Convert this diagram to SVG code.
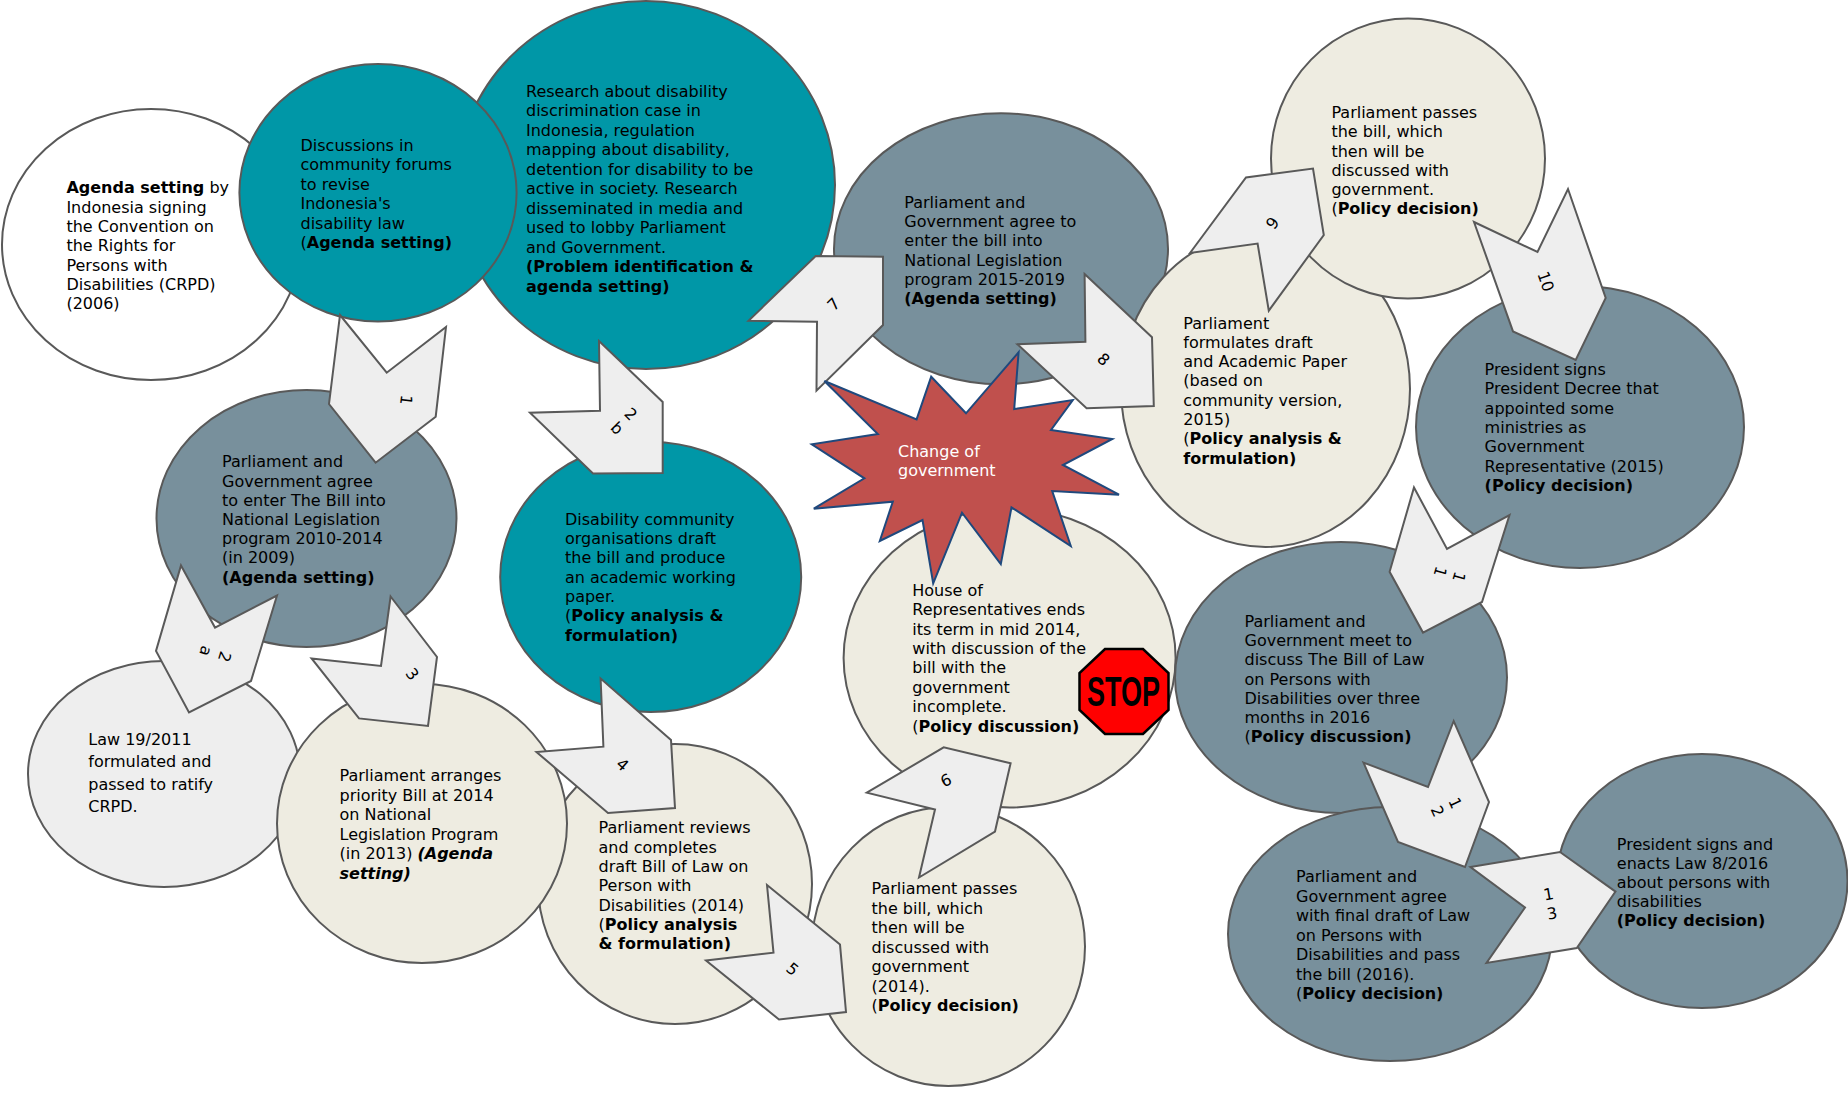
<svg xmlns="http://www.w3.org/2000/svg" width="1848" height="1094" viewBox="0 0 1848 1094">
<style>
.e{stroke:#595959;stroke-width:2}
.white{fill:#fff}.teal{fill:#0097A7}.slate{fill:#78909C}.cream{fill:#EEECE1}.light{fill:#EEEEEE}
text{font-family:"DejaVu Sans",Verdana,sans-serif;font-size:16px;fill:#000}
.b{font-weight:700}
.arrow{fill:#EEEEEE;stroke:#595959;stroke-width:2;stroke-linejoin:miter}
.lab{text-anchor:middle}
</style>
<rect width="1848" height="1094" fill="#fff"/>
<g id="n-crpd"><ellipse class="e white" cx="151" cy="244.5" rx="149" ry="135.5"/>
<text x="66.4" y="193.3"><tspan class="b">Agenda setting</tspan> by<tspan x="66.4" dy="19.33">Indonesia signing</tspan><tspan x="66.4" dy="19.33">the Convention on</tspan><tspan x="66.4" dy="19.33">the Rights for</tspan><tspan x="66.4" dy="19.33">Persons with</tspan><tspan x="66.4" dy="19.33">Disabilities (CRPD)</tspan><tspan x="66.4" dy="19.33">(2006)</tspan></text></g>
<g id="n-research"><ellipse class="e teal" cx="646" cy="185" rx="189" ry="184"/>
<text x="526" y="97">Research about disability<tspan x="526" dy="19.47">discrimination case in</tspan><tspan x="526" dy="19.47">Indonesia, regulation</tspan><tspan x="526" dy="19.47">mapping about disability,</tspan><tspan x="526" dy="19.47">detention for disability to be</tspan><tspan x="526" dy="19.47">active in society. Research</tspan><tspan x="526" dy="19.47">disseminated in media and</tspan><tspan x="526" dy="19.47">used to lobby Parliament</tspan><tspan x="526" dy="19.47">and Government.</tspan><tspan x="526" dy="19.47" class="b">(Problem identification &amp;</tspan><tspan x="526" dy="19.47" class="b">agenda setting)</tspan></text></g>
<g id="n-forums"><ellipse class="e teal" cx="378" cy="192.8" rx="138.6" ry="128.8"/>
<text x="300.5" y="151">Discussions in<tspan x="300.5" dy="19.4">community forums</tspan><tspan x="300.5" dy="19.4">to revise</tspan><tspan x="300.5" dy="19.4">Indonesia's</tspan><tspan x="300.5" dy="19.4">disability law</tspan><tspan x="300.5" dy="19.4">(<tspan class="b">Agenda setting)</tspan></tspan></text></g>
<g id="n-prolegnas-2010"><ellipse class="e slate" cx="306.5" cy="518.5" rx="150" ry="128.5"/>
<text x="222" y="467.3">Parliament and<tspan x="222" dy="19.2">Government agree</tspan><tspan x="222" dy="19.2">to enter The Bill into</tspan><tspan x="222" dy="19.2">National Legislation</tspan><tspan x="222" dy="19.2">program 2010-2014</tspan><tspan x="222" dy="19.2">(in 2009)</tspan><tspan x="222" dy="19.2" class="b">(Agenda setting)</tspan></text></g>
<g id="n-community"><ellipse class="e teal" cx="650.7" cy="577" rx="150.5" ry="135"/>
<text x="565" y="524.7">Disability community<tspan x="565" dy="19.33">organisations draft</tspan><tspan x="565" dy="19.33">the bill and produce</tspan><tspan x="565" dy="19.33">an academic working</tspan><tspan x="565" dy="19.33">paper.</tspan><tspan x="565" dy="19.33">(<tspan class="b">Policy analysis &amp;</tspan></tspan><tspan x="565" dy="19.33" class="b">formulation)</tspan></text></g>
<g id="n-law19"><ellipse class="e light" cx="164" cy="774" rx="136" ry="113"/>
<text x="88.3" y="745">Law 19/2011<tspan x="88.3" dy="22.4">formulated and</tspan><tspan x="88.3" dy="22.4">passed to ratify</tspan><tspan x="88.3" dy="22.4">CRPD.</tspan></text></g>
<g id="n-reviews"><ellipse class="e cream" cx="675" cy="884" rx="137" ry="140"/>
<text x="598.5" y="833.3">Parliament reviews<tspan x="598.5" dy="19.3">and completes</tspan><tspan x="598.5" dy="19.3">draft Bill of Law on</tspan><tspan x="598.5" dy="19.3">Person with</tspan><tspan x="598.5" dy="19.3">Disabilities (2014)</tspan><tspan x="598.5" dy="19.3">(<tspan class="b">Policy analysis</tspan></tspan><tspan x="598.5" dy="19.3" class="b">&amp; formulation)</tspan></text></g>
<g id="n-priority"><ellipse class="e cream" cx="422" cy="823.5" rx="145" ry="139.5"/>
<text x="339.5" y="781.3">Parliament arranges<tspan x="339.5" dy="19.5">priority Bill at 2014</tspan><tspan x="339.5" dy="19.5">on National</tspan><tspan x="339.5" dy="19.5">Legislation Program</tspan><tspan x="339.5" dy="19.5">(in 2013) <tspan class="b" font-style="italic">(Agenda</tspan></tspan><tspan x="339.5" dy="19.5" class="b" font-style="italic">setting)</tspan></text></g>
<g id="n-passes-2014"><ellipse class="e cream" cx="948.5" cy="946.5" rx="136.5" ry="139.5"/>
<text x="871.5" y="894.4">Parliament passes<tspan x="871.5" dy="19.5">the bill, which</tspan><tspan x="871.5" dy="19.5">then will be</tspan><tspan x="871.5" dy="19.5">discussed with</tspan><tspan x="871.5" dy="19.5">government</tspan><tspan x="871.5" dy="19.5">(2014).</tspan><tspan x="871.5" dy="19.5">(<tspan class="b">Policy decision)</tspan></tspan></text></g>
<g id="n-house"><ellipse class="e cream" cx="1009.6" cy="658" rx="166" ry="149.5"/>
<text x="912.3" y="595.8">House of<tspan x="912.3" dy="19.4">Representatives ends</tspan><tspan x="912.3" dy="19.4">its term in mid 2014,</tspan><tspan x="912.3" dy="19.4">with discussion of the</tspan><tspan x="912.3" dy="19.4">bill with the</tspan><tspan x="912.3" dy="19.4">government</tspan><tspan x="912.3" dy="19.4">incomplete.</tspan><tspan x="912.3" dy="19.4">(<tspan class="b">Policy discussion)</tspan></tspan></text></g>
<g id="n-prolegnas-2015"><ellipse class="e slate" cx="1001" cy="248.7" rx="167" ry="135.5"/>
<text x="904.3" y="207.6">Parliament and<tspan x="904.3" dy="19.33">Government agree to</tspan><tspan x="904.3" dy="19.33">enter the bill into</tspan><tspan x="904.3" dy="19.33">National Legislation</tspan><tspan x="904.3" dy="19.33">program 2015-2019</tspan><tspan x="904.3" dy="19.33" class="b">(Agenda setting)</tspan></text></g>
<g id="n-formulates"><ellipse class="e cream" cx="1265.5" cy="389" rx="144.5" ry="158"/>
<text x="1183.3" y="328.6">Parliament<tspan x="1183.3" dy="19.29">formulates draft</tspan><tspan x="1183.3" dy="19.29">and Academic Paper</tspan><tspan x="1183.3" dy="19.29">(based on</tspan><tspan x="1183.3" dy="19.29">community version,</tspan><tspan x="1183.3" dy="19.29">2015)</tspan><tspan x="1183.3" dy="19.29">(<tspan class="b">Policy analysis &amp;</tspan></tspan><tspan x="1183.3" dy="19.29" class="b">formulation)</tspan></text></g>
<g id="n-passes"><ellipse class="e cream" cx="1408" cy="158.6" rx="137" ry="140"/>
<text x="1331.4" y="117.9">Parliament passes<tspan x="1331.4" dy="19.3">the bill, which</tspan><tspan x="1331.4" dy="19.3">then will be</tspan><tspan x="1331.4" dy="19.3">discussed with</tspan><tspan x="1331.4" dy="19.3">government.</tspan><tspan x="1331.4" dy="19.3">(<tspan class="b">Policy decision)</tspan></tspan></text></g>
<g id="n-decree"><ellipse class="e slate" cx="1580" cy="427" rx="164" ry="141"/>
<text x="1484.6" y="375">President signs<tspan x="1484.6" dy="19.33">President Decree that</tspan><tspan x="1484.6" dy="19.33">appointed some</tspan><tspan x="1484.6" dy="19.33">ministries as</tspan><tspan x="1484.6" dy="19.33">Government</tspan><tspan x="1484.6" dy="19.33">Representative (2015)</tspan><tspan x="1484.6" dy="19.33" class="b">(Policy decision)</tspan></text></g>
<g id="n-meet"><ellipse class="e slate" cx="1341" cy="677.5" rx="166" ry="135.5"/>
<text x="1244.5" y="626.6">Parliament and<tspan x="1244.5" dy="19.3">Government meet to</tspan><tspan x="1244.5" dy="19.3">discuss The Bill of Law</tspan><tspan x="1244.5" dy="19.3">on Persons with</tspan><tspan x="1244.5" dy="19.3">Disabilities over three</tspan><tspan x="1244.5" dy="19.3">months in 2016</tspan><tspan x="1244.5" dy="19.3">(<tspan class="b">Policy discussion)</tspan></tspan></text></g>
<g id="n-final"><ellipse class="e slate" cx="1390" cy="934" rx="162" ry="127"/>
<text x="1296" y="882">Parliament and<tspan x="1296" dy="19.5">Government agree</tspan><tspan x="1296" dy="19.5">with final draft of Law</tspan><tspan x="1296" dy="19.5">on Persons with</tspan><tspan x="1296" dy="19.5">Disabilities and pass</tspan><tspan x="1296" dy="19.5">the bill (2016).</tspan><tspan x="1296" dy="19.5">(<tspan class="b">Policy decision)</tspan></tspan></text></g>
<g id="n-enacts"><ellipse class="e slate" cx="1702" cy="881" rx="145.5" ry="127"/>
<text x="1616.8" y="849.5">President signs and<tspan x="1616.8" dy="19.2">enacts Law 8/2016</tspan><tspan x="1616.8" dy="19.2">about persons with</tspan><tspan x="1616.8" dy="19.2">disabilities</tspan><tspan x="1616.8" dy="19.2" class="b">(Policy decision)</tspan></text></g>
<g id="n-stop"><polygon points="1105,649 1143,649 1168.5,673 1168.5,710 1143,734 1105,734 1079.5,710 1079.5,673" fill="#FF0000" stroke="#000" stroke-width="2.5"/>
<text x="1087" y="706" textLength="73" lengthAdjust="spacingAndGlyphs" style="font-family:'Liberation Sans',sans-serif;font-size:43px;font-weight:700">STOP</text></g>
<g id="connectors">
<g><polygon class="arrow" points="340,315 386.7,372.7 446,327 435.7,416.7 375.6,462.7 329,404"/><text class="lab" transform="translate(406.5,400) rotate(97)" y="5.8">1</text></g>
<g><polygon class="arrow" points="599,341 662.7,402 662.7,473 593,473.5 530,412.7 600,410.7"/><text class="lab" transform="translate(624,421) rotate(45)"><tspan x="0" y="-4">2</tspan><tspan x="0" y="15.6">b</tspan></text></g>
<g><polygon class="arrow" points="181,565.4 215,627.6 277,595.5 251,681 189,712.4 156,651"/><text class="lab" transform="translate(215.4,654) rotate(107)"><tspan x="0" y="-4">2</tspan><tspan x="0" y="15.6">a</tspan></text></g>
<g><polygon class="arrow" points="390.6,596.5 437,657 428,726 359,718.4 311.6,658.4 381,666"/><text class="lab" transform="translate(412.5,674) rotate(52)" y="5.8">3</text></g>
<g><polygon class="arrow" points="600.6,678.5 671,740 675,808 608,813 536.5,752 603.4,746.7"/><text class="lab" transform="translate(622.6,764.4) rotate(41)" y="5.8">4</text></g>
<g><polygon class="arrow" points="767,885 840,944.6 846,1012 779,1019.5 706,960.5 773.5,952.7"/><text class="lab" transform="translate(792.6,969) rotate(39)" y="5.8">5</text></g>
<g><polygon class="arrow" points="866.8,792.6 943.7,747.4 1010.6,763.3 995,831.5 919,877.5 935,809.6"/><text class="lab" transform="translate(946,780) rotate(-25)" y="5.8">6</text></g>
<g><polygon class="arrow" points="815.7,256 883,256.7 883,325 816.5,390.7 817,321.7 748.5,320.7"/><text class="lab" transform="translate(833.5,304) rotate(-45)" y="5.8">7</text></g>
<g><polygon class="arrow" points="1084.6,274 1152,337.3 1153.8,406 1086.6,408.3 1017.4,344.3 1085.4,341.7"/><text class="lab" transform="translate(1103.6,359.3) rotate(43)" y="5.8">8</text></g>
<g><polygon class="arrow" points="1190,253 1246,177.5 1313,168.6 1323.8,235 1268.8,310.7 1257.6,243.6"/><text class="lab" transform="translate(1272.4,223) rotate(-53.6)" y="5.8">9</text></g>
<g><polygon class="arrow" points="1474,222 1537.5,252 1568,189 1605.7,298 1575.7,360 1513,331.4"/><text class="lab" transform="translate(1546,281.4) rotate(71)" y="5.8">10</text></g>
<g><polygon class="arrow" points="1414,487.5 1447,549 1509.5,515 1482,602 1423,632.6 1389.6,571.8"/><text class="lab" transform="translate(1449.8,574.4) rotate(106)"><tspan x="0" y="-4">1</tspan><tspan x="0" y="15.6">1</tspan></text></g>
<g><polygon class="arrow" points="1363.5,762.6 1428,787 1453.7,721 1489,802 1465,867 1398,842"/><text class="lab" transform="translate(1446.5,807) rotate(65)"><tspan x="0" y="-4">1</tspan><tspan x="0" y="15.6">2</tspan></text></g>
<g><polygon class="arrow" points="1470.5,867 1560,852 1615.5,891.6 1576.8,948 1486.5,963 1525,907.5"/><text class="lab" transform="translate(1550.3,903.5) rotate(-10)"><tspan x="0" y="-4">1</tspan><tspan x="0" y="15.6">3</tspan></text></g>
</g>
<g id="n-change"><polygon points="824.4,381 916.6,419.3 931.2,376.7 966,413.3 1018.6,352.3 1014.2,409 1072.8,400 1051,430 1112.3,439 1062.9,465 1119,494.7 1052.2,491 1070.8,546 1011.5,507.3 1000.8,564 962,512.7 933.2,583.3 922.5,520 879.8,541 892.8,501.7 813.8,508.7 864.4,478.3 811.8,444.3 877.8,434" fill="#C0504D" stroke="#1F497D" stroke-width="2"/>
<text x="898" y="457" style="fill:#fff">Change of<tspan x="898" dy="19.33">government</tspan></text></g>
</svg>
